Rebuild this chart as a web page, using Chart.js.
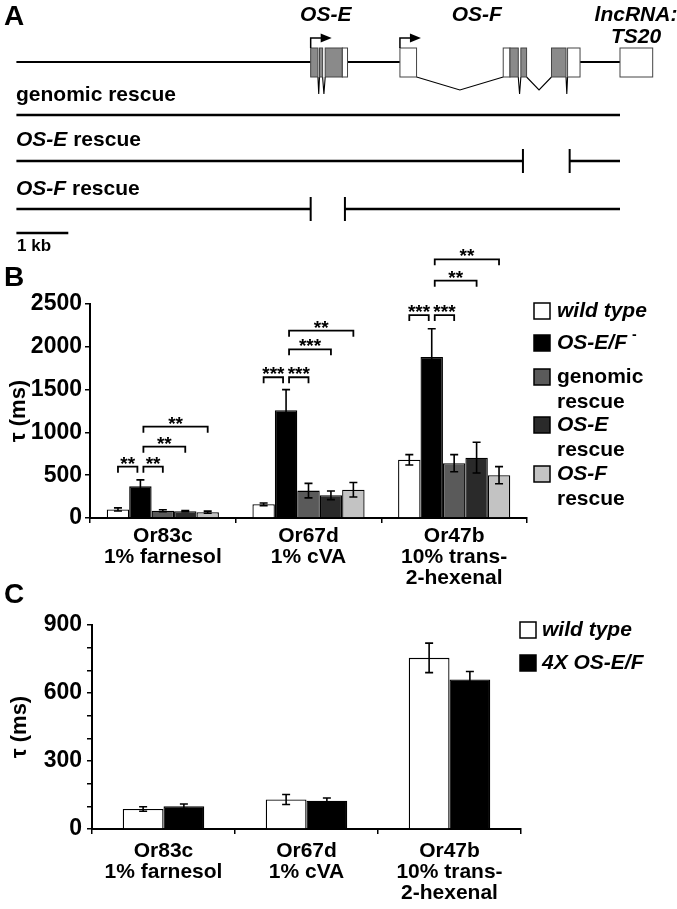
<!DOCTYPE html>
<html><head><meta charset="utf-8">
<script src="https://cdn.jsdelivr.net/npm/chart.js@4.4.1/dist/chart.umd.min.js"></script>
<style>
html,body{margin:0;padding:0;background:#fff;}
#wrap{position:relative;width:677px;height:909px;overflow:hidden;background:#fff;}
canvas{position:absolute;left:0;}
</style></head><body>
<div id="wrap">
<canvas id="cA" width="677" height="260" style="top:0px"></canvas>
<canvas id="cB" width="677" height="350" style="top:240px"></canvas>
<canvas id="cC" width="677" height="334" style="top:575px"></canvas>
</div>
<script>
// ===================== DATA =====================
// Panel A: gene structure (positions in kb)
const A_geneLine     = [[0, 5.67], [6.38, 7.39], [10.86, 11.63]];
const A_exonStart    = [5.67, 5.84, 5.95, 6.28, 7.39, 9.38, 9.51, 9.72, 10.31, 10.62, 11.63];
const A_exonEnd      = [5.81, 5.90, 6.28, 6.38, 7.71, 9.51, 9.67, 9.83, 10.59, 10.86, 12.26];
const A_exonType     = ['cds','cds','cds','utr','utr','utr','cds','cds','cds','utr','nc'];
const A_intronStart  = [5.81, 5.90, 7.71, 9.67, 9.83, 10.59];
const A_intronEnd    = [5.84, 5.95, 9.38, 9.72, 10.31, 10.62];
const A_tss          = [5.67, 7.39];
const A_geneNames    = ['OS-E', 'OS-F'];
const A_geneNameKb   = [5.96, 8.87];
const A_rescueNames  = [[{t:'genomic rescue'}], [{t:'OS-E', i:true}, {t:' rescue'}], [{t:'OS-F', i:true}, {t:' rescue'}]];
const A_rescueSegs   = [[[0, 11.63]], [[0, 9.76], [10.66, 11.63]], [[0, 5.67], [6.33, 11.63]]];
const A_scaleBarKb   = 1;

// Panel B
const B_categories   = [["Or83c","1% farnesol"], ["Or67d","1% cVA"], ["Or47b","10% trans-","2-hexenal"]];
const B_seriesNames  = ["wild type", "OS-E/F -", "genomic rescue", "OS-E rescue", "OS-F rescue"];
const B_wildType     = [100, 160, 680];
const B_wildTypeErr  = [18, 15, 60];
const B_osEF         = [370, 1260, 1880];
const B_osEFErr      = [75, 240, 330];
const B_genomic      = [85, 320, 640];
const B_genomicErr   = [12, 85, 100];
const B_osERescue    = [80, 265, 705];
const B_osERescueErr = [6, 50, 180];
const B_osFRescue    = [68, 330, 500];
const B_osFRescueErr = [12, 85, 100];
const B_yTicks       = [0, 500, 1000, 1500, 2000, 2500];
const B_sigCategory  = [0,0,0,0, 1,1,1,1, 2,2,2,2];
const B_sigFrom      = [0,1,1,1, 0,1,1,1, 0,1,1,1];
const B_sigTo        = [1,2,3,4, 1,2,3,4, 1,2,3,4];
const B_sigLevel     = [600,600,833,1067, 1644,1644,1971,2188, 2371,2371,2772,3022];
const B_sigLabel     = ['**','**','**','**', '***','***','***','**', '***','***','**','**'];

// Panel C
const C_categories   = [["Or83c","1% farnesol"], ["Or67d","1% cVA"], ["Or47b","10% trans-","2-hexenal"]];
const C_seriesNames  = ["wild type", "4X OS-E/F"];
const C_wildType     = [88, 130, 755];
const C_wildTypeErr  = [10, 22, 65];
const C_fourX        = [100, 125, 660];
const C_fourXErr     = [10, 12, 35];
const C_yTicks       = [0, 300, 600, 900];

// ===================== STYLE / LAYOUT =====================
const FONT = '"Liberation Sans", Arial, Helvetica, sans-serif';
Chart.defaults.font.family = FONT;
Chart.defaults.color = '#000';
Chart.defaults.animation = false;

function fontStr(size, italic){ return (italic ? 'italic ' : '') + 'bold ' + size + 'px ' + FONT; }
function drawRuns(ctx, x, y, runs, size, align){
  let total = 0;
  runs.forEach(r => { const s = r.sup ? Math.round(size*0.65) : size; ctx.font = fontStr(s, r.i); total += ctx.measureText(r.t).width + (r.gap||0); });
  let cx = align === 'center' ? x - total/2 : x;
  ctx.textAlign = 'left'; ctx.textBaseline = 'middle';
  runs.forEach(r => {
    const s = r.sup ? Math.round(size*0.65) : size;
    ctx.font = fontStr(s, r.i);
    cx += (r.gap||0);
    ctx.fillText(r.t, cx, r.sup ? y - size*0.38 : y);
    cx += ctx.measureText(r.t).width;
  });
}

const A_LAYOUT = {labelY:17, nameY:15, lncY1:15, lncY2:37, geneY:62, boxTop:48, boxBottom:77, deepV:17, shallowV:13,
  rescueTextY:[95,140,189], rescueLineY:[115,161,209], scaleY:233, scaleTextY:246, textX:16};

// ===================== PANEL A =====================
const panelAPlugin = {
  id: 'panelA',
  afterDraw(chart){
    const ctx = chart.ctx, xs = chart.scales.x, ys = chart.scales.y;
    const X = v => xs.getPixelForValue(v), Y = v => ys.getPixelForValue(v);
    const L = A_LAYOUT;
    ctx.save();
    ctx.fillStyle = '#000';
    ctx.textBaseline = 'middle'; ctx.textAlign = 'left';
    ctx.font = fontStr(28, false); ctx.fillText('A', 4, Y(L.labelY));
    A_geneNames.forEach((n, k) => drawRuns(ctx, X(A_geneNameKb[k]), Y(L.nameY), [{t:n, i:true}], 21, 'center'));
    const lncX = (X(A_exonStart[10]) + X(A_exonEnd[10]))/2;
    drawRuns(ctx, Math.min(lncX, 636), Y(L.lncY1), [{t:'lncRNA:', i:true}], 21, 'center');
    drawRuns(ctx, Math.min(lncX, 636), Y(L.lncY2), [{t:'TS20', i:true}], 21, 'center');
    ctx.strokeStyle = '#000'; ctx.lineWidth = 2;
    A_geneLine.forEach(([a, b]) => { ctx.beginPath(); ctx.moveTo(X(a), Y(L.geneY)); ctx.lineTo(X(b), Y(L.geneY)); ctx.stroke(); });
    ctx.lineWidth = 1.1;
    A_intronStart.forEach((s, k) => {
      const e = A_intronEnd[k];
      const depth = (e - s) < 0.2 ? L.deepV : L.shallowV;
      ctx.beginPath();
      ctx.moveTo(X(s), Y(L.boxBottom));
      ctx.lineTo((X(s) + X(e))/2, Y(L.boxBottom) + depth);
      ctx.lineTo(X(e), Y(L.boxBottom));
      ctx.stroke();
    });
    A_exonStart.forEach((s, k) => {
      const x0 = X(s), x1 = X(A_exonEnd[k]);
      ctx.fillStyle = A_exonType[k] === 'cds' ? '#8a8a8a' : '#ffffff';
      ctx.fillRect(x0, Y(L.boxTop), x1 - x0, Y(L.boxBottom) - Y(L.boxTop));
      ctx.strokeStyle = '#444'; ctx.lineWidth = 1;
      ctx.strokeRect(x0, Y(L.boxTop), x1 - x0, Y(L.boxBottom) - Y(L.boxTop));
    });
    ctx.strokeStyle = '#000'; ctx.fillStyle = '#000'; ctx.lineWidth = 1.5;
    A_tss.forEach(t => {
      const x = X(t), yTop = Y(L.boxTop), yA = yTop - 10;
      ctx.beginPath(); ctx.moveTo(x, yTop); ctx.lineTo(x, yA); ctx.lineTo(x + 11, yA); ctx.stroke();
      ctx.beginPath(); ctx.moveTo(x + 10, yA - 4.5); ctx.lineTo(x + 21, yA); ctx.lineTo(x + 10, yA + 4.5); ctx.closePath(); ctx.fill();
    });
    A_rescueNames.forEach((runs, r) => {
      ctx.fillStyle = '#000';
      drawRuns(ctx, L.textX, Y(L.rescueTextY[r]), runs, 21, 'left');
      const yL = Y(L.rescueLineY[r]);
      ctx.strokeStyle = '#000'; ctx.lineWidth = 2.5;
      const segs = A_rescueSegs[r];
      segs.forEach(([a, b], si) => {
        ctx.beginPath(); ctx.moveTo(X(a), yL); ctx.lineTo(X(b), yL); ctx.stroke();
        ctx.lineWidth = 2;
        if (si > 0) { ctx.beginPath(); ctx.moveTo(X(a), yL - 12); ctx.lineTo(X(a), yL + 12); ctx.stroke(); }
        if (si < segs.length - 1) { ctx.beginPath(); ctx.moveTo(X(b), yL - 12); ctx.lineTo(X(b), yL + 12); ctx.stroke(); }
        ctx.lineWidth = 2.5;
      });
    });
    ctx.beginPath(); ctx.moveTo(X(0), Y(L.scaleY)); ctx.lineTo(X(A_scaleBarKb), Y(L.scaleY)); ctx.stroke();
    ctx.fillStyle = '#000';
    drawRuns(ctx, L.textX + 1, Y(L.scaleTextY), [{t:'1 kb'}], 17, 'left');
    ctx.restore();
  }
};

new Chart(document.getElementById('cA'), {
  type: 'scatter',
  data: { datasets: [] },
  options: {
    responsive: false, animation: false,
    layout: { padding: 0 },
    plugins: { legend: { display: false }, tooltip: { enabled: false } },
    scales: {
      x: { type: 'linear', display: false, min: -16.4/51.9, max: (677 - 16.4)/51.9 },
      y: { type: 'linear', display: false, min: 0, max: 260, reverse: true }
    }
  },
  plugins: [panelAPlugin]
});

// ===================== SHARED PLUGINS =====================
const errorBarPlugin = {
  id: 'errorBars',
  afterDatasetsDraw(chart){
    const ctx = chart.ctx, ys = chart.scales.y;
    chart.data.datasets.forEach((ds, i) => {
      if (!ds.errors) return;
      const meta = chart.getDatasetMeta(i);
      meta.data.forEach((el, j) => {
        const v = ds.data[j], e = ds.errors[j];
        const x = el.x, yt = ys.getPixelForValue(v + e), yb = ys.getPixelForValue(Math.max(0, v - e));
        ctx.save(); ctx.strokeStyle = '#000'; ctx.lineWidth = 1.6;
        ctx.beginPath();
        ctx.moveTo(x, yt); ctx.lineTo(x, yb);
        ctx.moveTo(x - 4, yt); ctx.lineTo(x + 4, yt);
        ctx.moveTo(x - 4, yb); ctx.lineTo(x + 4, yb);
        ctx.stroke(); ctx.restore();
      });
    });
  }
};

const bracketPlugin = {
  id: 'sigBrackets',
  afterDraw(chart){
    const ctx = chart.ctx, ys = chart.scales.y;
    ctx.save();
    ctx.strokeStyle = '#000'; ctx.fillStyle = '#000'; ctx.lineWidth = 1.8;
    B_sigCategory.forEach((c, k) => {
      const f = B_sigFrom[k], t = B_sigTo[k];
      let x1 = chart.getDatasetMeta(f).data[c].x, x2 = chart.getDatasetMeta(t).data[c].x;
      if (f === 1) x1 += 3;
      if (t === 1) x2 -= 3;
      const y = ys.getPixelForValue(B_sigLevel[k]);
      ctx.beginPath();
      ctx.moveTo(x1, y + 6); ctx.lineTo(x1, y); ctx.lineTo(x2, y); ctx.lineTo(x2, y + 6);
      ctx.stroke();
      ctx.font = fontStr(19, false); ctx.textAlign = 'center'; ctx.textBaseline = 'alphabetic';
      ctx.fillText(B_sigLabel[k], (x1 + x2)/2, y + 3);
    });
    ctx.restore();
  }
};

function legendPlugin(id, boxX, textX, rows, lineGap, runsList, size){
  return {
    id,
    afterDraw(chart){
      const ctx = chart.ctx;
      ctx.save();
      chart.data.datasets.forEach((ds, i) => {
        const y = rows[i];
        ctx.fillStyle = ds.backgroundColor;
        ctx.fillRect(boxX, y - 8, 16, 16);
        ctx.strokeStyle = '#000'; ctx.lineWidth = 1.5;
        ctx.strokeRect(boxX, y - 8, 16, 16);
        ctx.fillStyle = '#000';
        runsList[i].forEach((runs, li) => drawRuns(ctx, textX, y + li*lineGap, runs, size, 'left'));
      });
      ctx.restore();
    }
  };
}

function panelLabel(id, letter, x, y){
  return { id, afterDraw(chart){ const ctx = chart.ctx; ctx.save(); ctx.fillStyle = '#000'; ctx.font = fontStr(28, false); ctx.textAlign = 'left'; ctx.textBaseline = 'middle'; ctx.fillText(letter, x, y); ctx.restore(); } };
}

function barSet(label, data, errors, color){
  return { label, data, errors, backgroundColor: color, borderColor: '#000', borderWidth: 1.3 };
}

function axisX(pad){
  return {
    offset: true,
    grid: { offset: true, drawOnChartArea: false, drawTicks: true, tickLength: 5, color: '#000', lineWidth: 1.5 },
    border: { display: true, color: '#000', width: 2 },
    ticks: { font: { size: 21, weight: 'bold', lineHeight: 1.0 }, color: '#000', padding: pad, maxRotation: 0, minRotation: 0, autoSkip: false }
  };
}

// ===================== PANEL B =====================
const B_colors = ['#ffffff', '#000000', '#5a5a5a', '#2a2a2a', '#c3c3c3'];
const B_legendRuns = [
  [[{t:'wild type', i:true}]],
  [[{t:'OS-E/F', i:true}, {t:'-', sup:true, gap:5}]],
  [[{t:'genomic'}], [{t:'rescue'}]],
  [[{t:'OS-E', i:true}], [{t:'rescue'}]],
  [[{t:'OS-F', i:true}], [{t:'rescue'}]]
];
const bX = axisX(3);
bX.afterFit = s => { s.height = 70; };
new Chart(document.getElementById('cB'), {
  type: 'bar',
  data: {
    labels: B_categories,
    datasets: [
      barSet(B_seriesNames[0], B_wildType, B_wildTypeErr, B_colors[0]),
      barSet(B_seriesNames[1], B_osEF, B_osEFErr, B_colors[1]),
      barSet(B_seriesNames[2], B_genomic, B_genomicErr, B_colors[2]),
      barSet(B_seriesNames[3], B_osERescue, B_osERescueErr, B_colors[3]),
      barSet(B_seriesNames[4], B_osFRescue, B_osFRescueErr, B_colors[4])
    ]
  },
  options: {
    responsive: false, animation: false,
    layout: { padding: { left: 0, right: 150, top: 64, bottom: 2 } },
    datasets: { bar: { categoryPercentage: 0.77, barPercentage: 1 } },
    plugins: { legend: { display: false }, tooltip: { enabled: false } },
    scales: {
      x: bX,
      y: {
        min: 0, max: 2500,
        afterBuildTicks: s => { s.ticks = B_yTicks.map(v => ({ value: v })); },
        ticks: { font: { size: 23, weight: 'bold' }, color: '#000', padding: 3, autoSkip: false, callback: v => String(v) },
        grid: { drawOnChartArea: false, tickLength: 5, color: '#000', lineWidth: 1.5 },
        border: { display: true, color: '#000', width: 2 },
        title: { display: true, text: 'τ (ms)', font: { size: 22, weight: 'bold' }, color: '#000', padding: { top: 6, bottom: 0 } },
        afterFit: s => { s.width = 90; }
      }
    }
  },
  plugins: [errorBarPlugin, bracketPlugin, legendPlugin('legB', 534, 557, [71, 103, 137, 185, 234], 25, B_legendRuns, 21), panelLabel('labB', 'B', 4, 38)]
});

// ===================== PANEL C =====================
const C_colors = ['#ffffff', '#000000'];
const C_legendRuns = [
  [[{t:'wild type', i:true}]],
  [[{t:'4X OS-E/F', i:true}]]
];
const cX = axisX(7);
cX.afterFit = s => { s.height = 75; };
const C_minorStep = 100;
new Chart(document.getElementById('cC'), {
  type: 'bar',
  data: {
    labels: C_categories,
    datasets: [
      barSet(C_seriesNames[0], C_wildType, C_wildTypeErr, C_colors[0]),
      barSet(C_seriesNames[1], C_fourX, C_fourXErr, C_colors[1])
    ]
  },
  options: {
    responsive: false, animation: false,
    layout: { padding: { left: 0, right: 156, top: 50, bottom: 5 } },
    datasets: { bar: { categoryPercentage: 0.57, barPercentage: 1 } },
    plugins: { legend: { display: false }, tooltip: { enabled: false } },
    scales: {
      x: cX,
      y: {
        min: 0, max: 900,
        afterBuildTicks: s => { const t = []; for (let v = C_yTicks[0]; v <= C_yTicks[C_yTicks.length-1]; v += C_minorStep) t.push({ value: v }); s.ticks = t; },
        ticks: { font: { size: 23, weight: 'bold' }, color: '#000', padding: 5, autoSkip: false, callback: v => C_yTicks.includes(v) ? String(v) : '' },
        grid: { drawOnChartArea: false, tickLength: 5, color: '#000', lineWidth: 1.5 },
        border: { display: true, color: '#000', width: 2 },
        title: { display: true, text: 'τ (ms)', font: { size: 22, weight: 'bold' }, color: '#000', padding: { top: 7, bottom: 0 } },
        afterFit: s => { s.width = 92; }
      }
    }
  },
  plugins: [errorBarPlugin, legendPlugin('legC', 520, 542, [55, 88], 25, C_legendRuns, 21), panelLabel('labC', 'C', 4, 20)]
});
</script>
</body></html>
